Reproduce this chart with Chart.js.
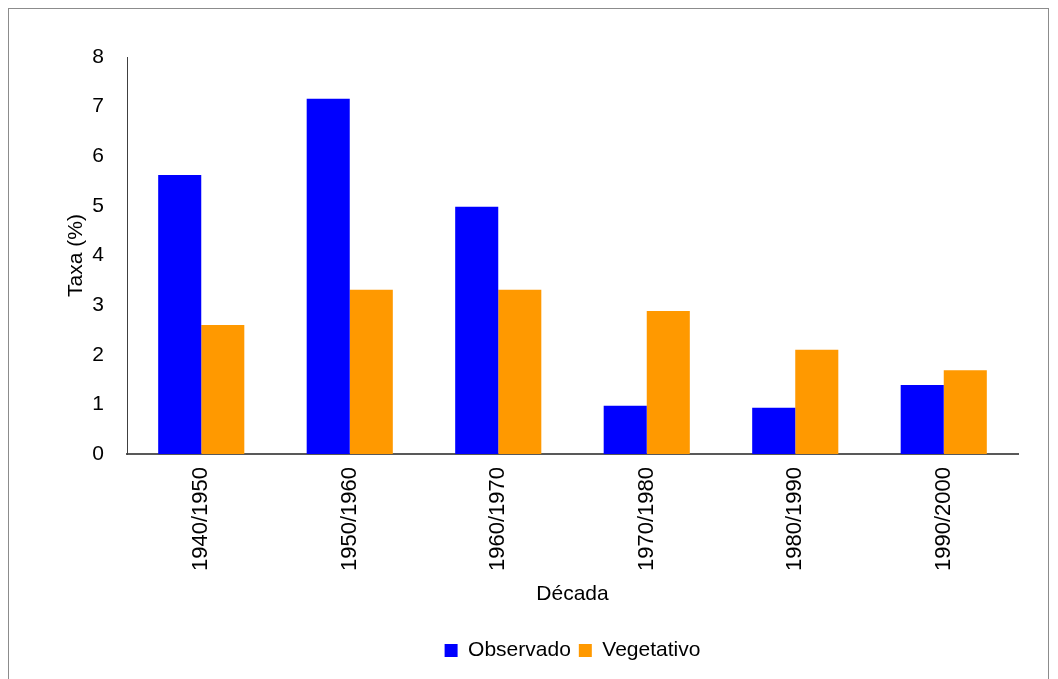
<!DOCTYPE html>
<html>
<head>
<meta charset="utf-8">
<script src="https://cdn.jsdelivr.net/npm/chart.js@4.4.0/dist/chart.umd.min.js"></script>
<style>
  html, body { margin: 0; padding: 0; background: #fff; }
  #frame { position: absolute; left: 8px; top: 8px; width: 1041px; height: 690px; border: 1px solid #8c8c8c; box-sizing: border-box; }
  #wrap { position: absolute; left: 0; top: 0; width: 1058px; height: 679px; }
</style>
</head>
<body>
<div id="frame"></div>
<div id="wrap"><canvas id="chart-taxa"></canvas></div>
<script>
// Taxa de crescimento por década
var decadas = ['1940/1950', '1950/1960', '1960/1970', '1970/1980', '1980/1990', '1990/2000'];
var observado = [5.62, 7.16, 4.98, 0.97, 0.93, 1.39];
var vegetativo = [2.60, 3.31, 3.31, 2.88, 2.10, 1.69];
var yTicks = [0, 1, 2, 3, 4, 5, 6, 7, 8];

Chart.defaults.font.family = '"Liberation Sans", Arial, sans-serif';
Chart.defaults.color = '#000';

// legenda centrada sob a área do gráfico
var legendUnderArea = {
	id: 'legendUnderArea',
	afterLayout: function(chart) {
		if (chart.legend) {
			chart.legend.left = chart.chartArea.left;
			chart.legend.right = chart.chartArea.right;
		}
	}
};

var configChartTaxa = {
	type: 'bar',
	data: {
		labels: decadas,
		datasets: [{
			label: 'Observado',
			data: observado,
			backgroundColor: '#0000ff',
			borderWidth: 0
		}, {
			label: 'Vegetativo',
			data: vegetativo,
			backgroundColor: '#ff9900',
			borderWidth: 0
		}]
	},
	options: {
		responsive: false,
		animation: false,
		layout: {
			padding: { left: 62, right: 40, top: 57, bottom: 8 }
		},
		datasets: {
			bar: { categoryPercentage: 0.58, barPercentage: 1.0 }
		},
		scales: {
			x: {
				grid: { display: false },
				border: { display: true, color: '#595959', width: 2 },
				ticks: {
					font: { size: 22 },
					minRotation: 90,
					maxRotation: 90,
					padding: 5
				},
				title: {
					display: true,
					text: 'Década',
					font: { size: 21 },
					padding: { top: 4, bottom: 25 }
				},
				afterFit: function(scale) { scale.height = 178; }
			},
			y: {
				min: 0,
				max: 8,
				afterBuildTicks: function(scale) {
					scale.ticks = yTicks.map(function(v) { return { value: v }; });
				},
				grid: { display: false },
				border: { display: true, color: '#404040', width: 1 },
				ticks: {
					font: { size: 21 },
					padding: 15
				},
				title: {
					display: true,
					text: 'Taxa (%)',
					font: { size: 21 },
					padding: { top: 2, bottom: 4 }
				},
				afterFit: function(scale) { scale.width = 65; }
			}
		},
		plugins: {
			legend: {
				display: true,
				position: 'bottom',
				labels: {
					boxWidth: 13,
					boxHeight: 13,
					padding: 8,
					font: { size: 21 },
					color: '#000'
				}
			},
			tooltip: { enabled: false }
		}
	},
	plugins: [legendUnderArea]
};

var canvas = document.getElementById('chart-taxa');
canvas.width = 1058;
canvas.height = 679;
var ctx = canvas.getContext('2d');
var chartTaxa = new Chart(ctx, configChartTaxa);
</script>
</body>
</html>
